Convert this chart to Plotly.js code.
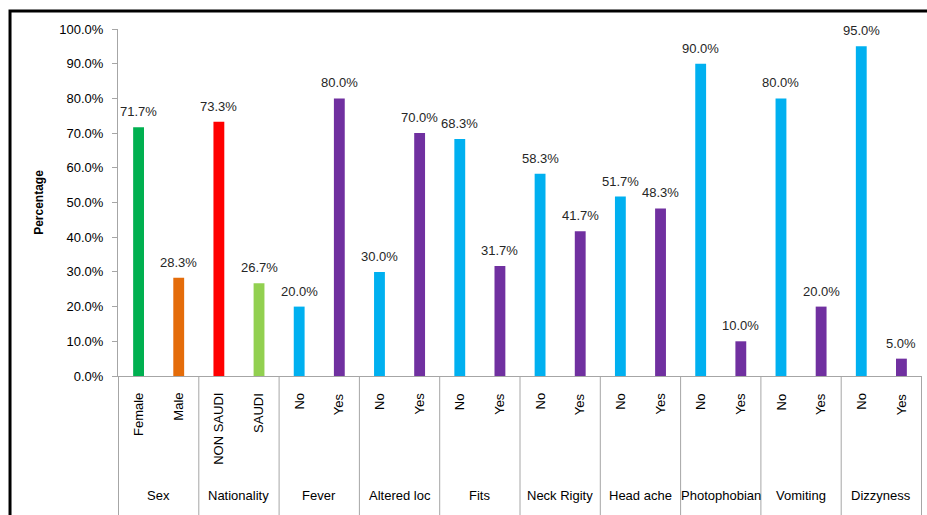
<!DOCTYPE html>
<html>
<head>
<meta charset="utf-8">
<script src="https://cdn.plot.ly/plotly-3.0.1.min.js"></script>
<style>html,body{margin:0;padding:0;background:#fff}#chart{width:927px;height:515px}</style>
</head>
<body>
<div id="chart"></div>
<script>
const groups = ["Sex","Sex","Nationality","Nationality","Fever","Fever","Altered loc","Altered loc","Fits","Fits","Neck Rigity","Neck Rigity","Head ache","Head ache","Photophobian","Photophobian","Vomiting","Vomiting","Dizzyness","Dizzyness"];
const subs = ["Female","Male","NON SAUDI","SAUDI","No","Yes","No","Yes","No","Yes","No","Yes","No","Yes","No","Yes","No","Yes","No","Yes"];
const values = [71.7,28.3,73.3,26.7,20.0,80.0,30.0,70.0,68.3,31.7,58.3,41.7,51.7,48.3,90.0,10.0,80.0,20.0,95.0,5.0];

const colorFor = s => ({Female:"#00B050",Male:"#E46C0A","NON SAUDI":"#FF0000",SAUDI:"#92D050",No:"#00B0F0",Yes:"#7030A0"})[s];

const font = "Liberation Sans, Arial, sans-serif";
const trace = {
  type: "bar",
  x: [groups, subs],
  y: values,
  marker: {color: subs.map(colorFor)},
  width: 0.27,
  hoverinfo: "skip"
};

const annotations = [];
const shapes = [];
// data labels
values.forEach((v, i) => annotations.push({
  x: i, y: v, xref: "x", yref: "y", text: v.toFixed(1) + "%", showarrow: false,
  yanchor: "bottom", yshift: 6, font: {family: font, size: 13, color: "#262626"}
}));
// inner category labels
subs.forEach((s, i) => annotations.push({
  x: i, y: -0.043, xref: "x", yref: "paper", text: s, showarrow: false, textangle: -90,
  yanchor: "top", xanchor: "center", font: {family: font, size: 13, color: "#000"}
}));
// group labels and dividers
let start = 0;
for (let i = 1; i <= groups.length; i++) {
  if (i === groups.length || groups[i] !== groups[start]) {
    annotations.push({
      x: (start + i - 1) / 2, y: -0.343, xref: "x", yref: "paper", text: groups[start],
      showarrow: false, yanchor: "middle", font: {family: font, size: 13, color: "#000"}
    });
    start = i;
  }
}
for (let i = 0; i <= groups.length; i++) {
  if (i === 0 || i === groups.length || groups[i] !== groups[i - 1]) {
    shapes.push({type: "line", xref: "x", yref: "paper", x0: i - 0.5, x1: i - 0.5, y0: 0, y1: -0.41,
      line: {color: "#A6A6A6", width: 1}});
  }
}
shapes.push({type: "path", xref: "paper", yref: "paper",
  path: "M -0.1343 -0.5 L -0.1343 1.0519 L 1.2 1.0519",
  line: {color: "#000", width: 3}});

const layout = {
  width: 927, height: 515,
  margin: {l: 118, r: 5, t: 29, b: 139},
  paper_bgcolor: "#fff", plot_bgcolor: "#fff",
  showlegend: false,
  font: {family: font, size: 13, color: "#000"},
  xaxis: {
    type: "multicategory",
    showline: true, linecolor: "#A6A6A6", linewidth: 1,
    ticks: "", showticklabels: false, showdividers: false,
    showgrid: false, zeroline: false
  },
  yaxis: {
    range: [0, 100], dtick: 10, tickformat: ".1f", ticksuffix: "%",
    showline: true, linecolor: "#A6A6A6", linewidth: 1,
    ticks: "outside", ticklen: 5, tickcolor: "#A6A6A6",
    ticklabelstandoff: 6,
    showgrid: false, zeroline: false,
    tickfont: {family: font, size: 13, color: "#000"},
    title: {text: "<b>Percentage</b>", font: {family: font, size: 12, color: "#000"}, standoff: 13}
  },
  annotations: annotations,
  shapes: shapes
};

Plotly.newPlot("chart", [trace], layout, {displayModeBar: false, staticPlot: true});
</script>
</body>
</html>
